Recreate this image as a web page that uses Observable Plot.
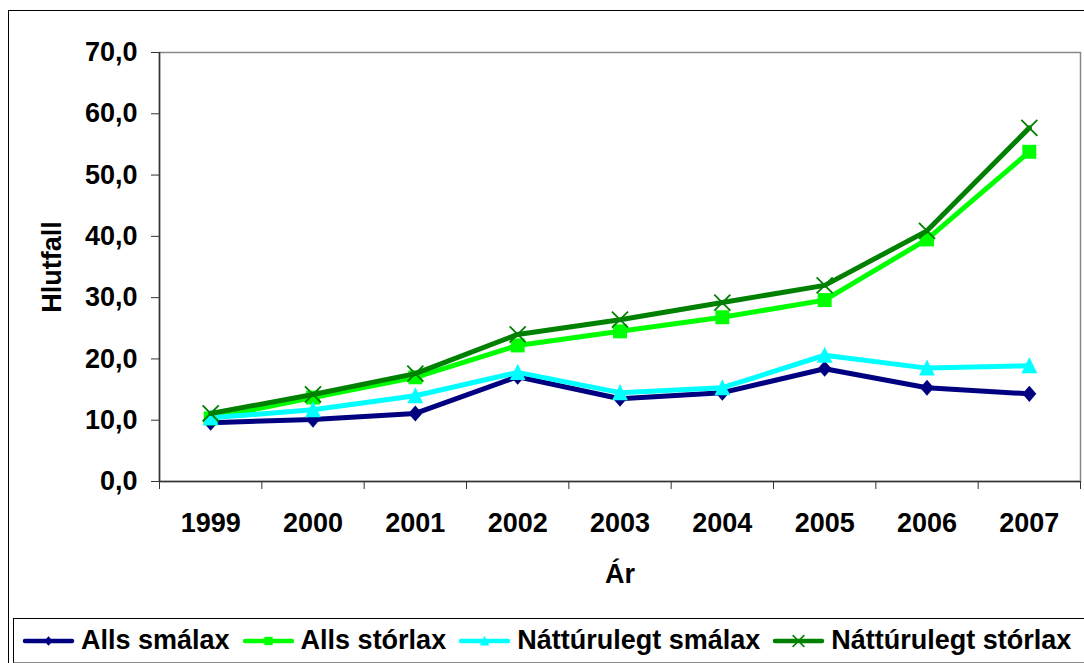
<!DOCTYPE html>
<html>
<head>
<meta charset="utf-8">
<script src="https://cdn.jsdelivr.net/npm/d3@7"></script>
<script src="https://cdn.jsdelivr.net/npm/@observablehq/plot@0.6"></script>
<style>
  html, body { margin: 0; padding: 0; background: #fff; width: 1084px; height: 663px; overflow: hidden; }
  body { position: relative; font-family: "Liberation Sans", Arial, sans-serif; }
  #frame { position: absolute; left: 8px; top: 10px; width: 1200px; height: 800px; border: 1px solid #000; box-sizing: border-box; }
  #chart { position: absolute; left: 0; top: 0; }
  #legend { position: absolute; left: 13px; top: 618px; width: 1200px; height: 45px; border: 1px solid #000; border-bottom-color: #888; box-sizing: border-box; display: flex; align-items: center; padding-left: 8px; }
  .item { display: flex; align-items: center; margin-right: 12px; font-weight: bold; font-size: 27px; color: #000; white-space: nowrap; }
  .item svg { margin-right: 6px; }
</style>
</head>
<body>
<div id="frame"></div>
<div id="chart"></div>
<div id="legend"></div>
<script>
const years = [1999, 2000, 2001, 2002, 2003, 2004, 2005, 2006, 2007];
const allsSmalax = [9.6, 10.1, 11.1, 17.1, 13.5, 14.5, 18.4, 15.3, 14.3];
const allsStorlax = [10.3, 13.7, 17.0, 22.2, 24.5, 26.8, 29.6, 39.5, 53.8];
const natturulegtSmalax = [10.4, 11.7, 14.0, 17.8, 14.5, 15.3, 20.6, 18.5, 18.9];
const natturulegtStorlax = [11.1, 14.2, 17.6, 24.0, 26.4, 29.2, 32.0, 40.9, 57.7];
const seriesNames = ["Alls smálax", "Alls stórlax", "Náttúrulegt smálax", "Náttúrulegt stórlax"];
const seriesColors = ["#000080", "#00FF00", "#00FFFF", "#008000"];
const seriesSymbols = ["diamond", "square", "triangle", "times"];
const yTicks = [0, 10, 20, 30, 40, 50, 60, 70];

// Excel-like marker shapes
const rOf = size => Math.sqrt(size / Math.PI);
const symbols = {
  diamond: {draw(c, size) { const r = rOf(size); c.moveTo(0, -r * 1.07); c.lineTo(r * 0.93, 0); c.lineTo(0, r * 1.07); c.lineTo(-r * 0.93, 0); c.closePath(); }},
  square: {draw(c, size) { const h = rOf(size) * 0.93; c.moveTo(-h, -h); c.lineTo(h, -h); c.lineTo(h, h); c.lineTo(-h, h); c.closePath(); }},
  triangle: {draw(c, size) { const r = rOf(size); c.moveTo(0, -r * 1.14); c.lineTo(r * 1.05, r); c.lineTo(-r * 1.05, r); c.closePath(); }},
  times: {draw(c, size) { const h = rOf(size) * 1.07; c.moveTo(-h, -h); c.lineTo(h, h); c.moveTo(h, -h); c.lineTo(-h, h); }}
};

const seriesValues = [allsSmalax, allsStorlax, natturulegtSmalax, natturulegtStorlax];
const series = seriesNames.map((name, i) => ({
  name, color: seriesColors[i], symbol: seriesSymbols[i],
  data: years.map((year, j) => ({year, value: seriesValues[i][j]}))
}));
const boundaries = [...years.map(y => y - 0.5), years[years.length - 1] + 0.5];
const fmt = d => d3.format(".1f")(d).replace(".", ",");
const font = {fontSize: 27, fontWeight: "bold", fontFamily: "Liberation Sans, Arial, sans-serif"};

const marks = [
  Plot.frame({stroke: "#888", strokeWidth: 1.5}),
  Plot.axisY({ticks: yTicks, tickFormat: fmt, tickSize: 8, tickPadding: 14, stroke: "#333", ...font, fill: "#000", label: null}),
  Plot.axisX({ticks: boundaries, tickSize: 8, tickFormat: () => "", stroke: "#333", label: null}),
  Plot.axisX({ticks: years, tickSize: 0, tickPadding: 31, tickFormat: d => String(d), ...font, fill: "#000", label: null}),
  Plot.ruleX([boundaries[0]], {stroke: "#333", strokeWidth: 1.5}),
  Plot.ruleY([0], {stroke: "#333", strokeWidth: 1.5}),
  Plot.text(["Ár"], {frameAnchor: "bottom", dy: 101, lineAnchor: "bottom", ...font}),
  Plot.text(["Hlutfall"], {frameAnchor: "left", rotate: -90, dx: -99, lineAnchor: "bottom", textAnchor: "middle", ...font})
];
for (const s of series) {
  marks.push(Plot.line(s.data, {x: "year", y: "value", stroke: s.color, strokeWidth: 5, strokeLinejoin: "round"}));
  if (s.symbol === "times") {
    marks.push(Plot.dot(s.data, {x: "year", y: "value", symbol: symbols.times, stroke: s.color, strokeWidth: 1.8, r: 7.5, fill: "none"}));
  } else {
    marks.push(Plot.dot(s.data, {x: "year", y: "value", symbol: symbols[s.symbol], fill: s.color, stroke: "none", r: 7.5}));
  }
}

const chart = Plot.plot({
  width: 1084,
  height: 610,
  marginLeft: 159,
  marginRight: 4,
  marginTop: 52,
  marginBottom: 129,
  x: {type: "linear", domain: [boundaries[0], boundaries[boundaries.length - 1]]},
  y: {domain: [0, 70]},
  marks
});
chart.style.background = "transparent";
document.getElementById("chart").appendChild(chart);

// legend
const legend = document.getElementById("legend");
series.forEach(s => {
  const item = document.createElement("div");
  item.className = "item";
  const sw = d3.create("svg").attr("width", 53).attr("height", 20);
  sw.append("line").attr("x1", 3).attr("x2", 50).attr("y1", 10).attr("y2", 10)
    .attr("stroke", s.color).attr("stroke-width", 4.5).attr("stroke-linecap", "round");
  const rr = s.symbol === "times" ? 5.5 : 4.5;
  const sym = d3.symbol(symbols[s.symbol], Math.PI * rr * rr)();
  const p = sw.append("path").attr("d", sym).attr("transform", "translate(26.5,10)");
  if (s.symbol === "times") p.attr("fill", "none").attr("stroke", s.color).attr("stroke-width", 1.5);
  else p.attr("fill", s.color);
  item.appendChild(sw.node());
  const t = document.createElement("span");
  t.textContent = s.name;
  item.appendChild(t);
  legend.appendChild(item);
});
</script>
</body>
</html>
